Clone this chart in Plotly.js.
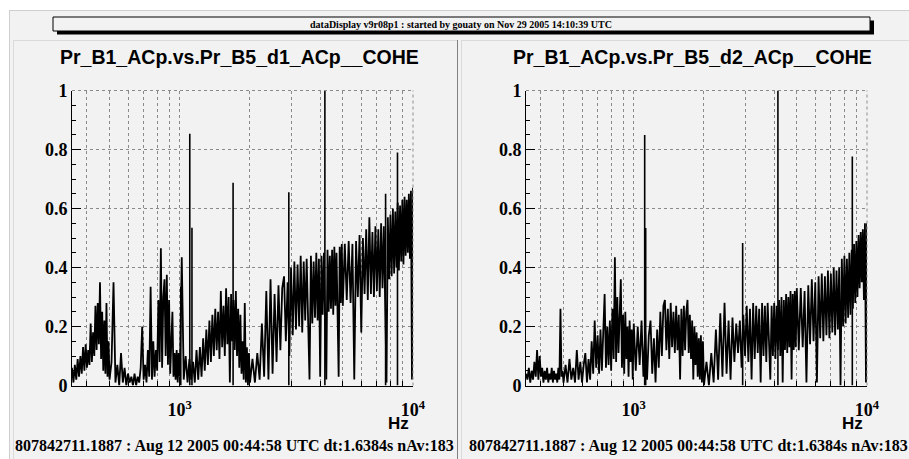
<!DOCTYPE html>
<html><head><meta charset="utf-8">
<script src="https://cdn.plot.ly/plotly-3.0.1.min.js"></script>
<style>html,body{margin:0;padding:0;background:#fff;} #chart{width:909px;height:459px;}</style>
</head><body><div id="chart"></div>
<script>
// ---- data (frequency bins in Hz, coherence values) ----
const freqHz = [
345,350,355,360,365,370,375,380,385,390,395,400,405,410,415,420,425,430,435,440,445,450,455,460,465,470,475,480,485,490,495,500,
510,520,530,540,550,560,570,580,590,600,610,620,630,640,650,660,670,680,690,700,710,720,730,740,750,760,770,780,790,800,
810,820,830,840,850,860,870,880,890,900,910,920,930,940,950,960,970,980,990,1000,
1020,1040,1060,1080,1100,1120,1140,1160,1180,1200,1220,1240,1260,1280,1300,1320,1340,1360,1380,1400,
1420,1440,1460,1480,1500,1520,1540,1560,1580,1600,1620,1640,1660,1680,1700,1720,1740,1760,1780,1800,
1820,1840,1860,1880,1900,1920,1940,1960,1980,2000,
2050,2100,2150,2200,2250,2300,2350,2400,2450,2500,2550,2600,2650,2700,2750,2800,2850,2900,2950,3000,
3050,3100,3150,3200,3250,3300,3350,3400,3450,3500,3550,3600,3650,3700,3750,3800,3850,3900,3950,4000,
4050,4100,4150,4200,4250,4300,4350,4400,4450,4500,4550,4600,4650,4700,4750,4800,4850,4900,4950,5000,
5100,5200,5300,5400,5500,5600,5700,5800,5900,6000,6100,6200,6300,6400,6500,6600,6700,6800,6900,7000,
7100,7200,7300,7400,7500,7600,7700,7800,7900,8000,8100,8200,8300,8400,8500,8600,8700,8800,8900,9000,
9100,9200,9300,9400,9500,9600,9700,9800,9900,10000
];
const cohLeft = [
0.06,0.01,0.07,0.02,0.09,0.03,0.10,0.04,0.13,0.05,0.14,0.06,0.12,0.07,0.21,0.08,0.18,0.10,0.27,0.12,0.28,0.14,0.35,0.09,0.25,0.05,0.22,0.04,0.28,0.03,0.15,0.02,
0.08,0.35,0.01,0.07,0.00,0.11,0.01,0.06,0.00,0.04,
0.01,0.03,0.00,0.04,0.00,0.03,0.01,0.06,0.20,0.02,
0.07,0.01,0.12,0.03,0.335,0.02,0.15,0.03,0.12,0.05,
0.29,0.08,0.465,0.06,0.30,0.36,0.10,0.375,0.07,0.29,
0.04,0.12,0.25,0.03,0.11,0.02,0.12,0.01,0.11,0.03,
0.435,0.02,0.10,0.01,0.09,0.02,0.08,0.01,0.12,0.02,
0.13,0.03,0.16,0.05,0.19,0.07,0.22,0.08,0.24,0.10,
0.26,0.12,0.25,0.09,0.32,0.13,0.27,0.10,0.33,0.14,
0.30,0.01,0.31,0.15,0.29,0.12,0.32,0.10,0.26,0.06,
0.24,0.04,0.15,0.02,0.28,0.01,0.13,0.00,0.11,0.01,
0.09,0.01,0.11,0.02,0.21,0.03,0.32,0.02,0.36,0.04,
0.31,0.08,0.34,0.12,0.33,0.37,0.15,0.35,0.10,0.40,
0.17,0.42,0.19,0.41,0.20,0.44,0.18,0.42,0.22,0.43,
0.20,0.02,0.44,0.21,0.42,0.23,0.45,0.22,0.43,0.03,
0.44,0.24,0.45,0.23,0.02,0.46,0.25,0.44,0.26,0.46,
0.24,0.47,0.27,0.45,0.26,0.03,0.47,0.28,0.48,0.27,
0.48,0.29,0.49,0.28,0.48,0.02,0.49,0.30,0.51,0.18,
0.50,0.31,0.53,0.29,0.57,0.31,0.52,0.30,0.54,0.32,
0.53,0.30,0.55,0.33,0.54,0.31,0.01,0.57,0.36,0.58,
0.37,0.60,0.38,0.59,0.40,0.62,0.39,0.61,0.42,0.63,
0.41,0.64,0.44,0.63,0.45,0.65,0.43,0.66,0.02,0.67
];
const cohRight = [
0.04,0.02,0.06,0.01,0.05,0.02,0.08,0.03,0.12,0.02,0.10,0.03,0.06,0.01,0.05,0.02,0.06,0.01,0.04,0.02,0.06,0.01,0.05,0.02,0.04,0.01,0.06,0.02,0.26,0.03,0.05,0.01,
0.07,0.01,0.09,0.02,0.06,0.01,0.12,0.02,0.08,0.01,
0.07,0.11,0.01,0.09,0.02,0.15,0.04,0.22,0.06,0.17,
0.04,0.19,0.05,0.21,0.31,0.06,0.20,0.07,0.22,0.05,
0.26,0.09,0.435,0.08,0.30,0.11,0.25,0.36,0.06,0.24,
0.04,0.25,0.09,0.20,0.03,0.22,0.08,0.19,0.02,0.21,
0.05,0.20,0.07,0.22,0.03,0.18,0.02,0.17,0.22,0.04,
0.16,0.01,0.19,0.06,0.25,0.10,0.27,0.29,0.12,0.26,
0.09,0.28,0.13,0.25,0.11,0.27,0.12,0.24,0.02,0.26,
0.10,0.27,0.12,0.25,0.29,0.11,0.24,0.09,0.22,0.02,
0.20,0.07,0.18,0.03,0.16,0.02,0.17,0.01,0.15,0.00,
0.08,0.00,0.11,0.01,0.19,0.02,0.245,0.03,0.28,0.04,
0.22,0.02,0.23,0.08,0.21,0.11,0.22,0.06,0.24,0.10,
0.27,0.08,0.26,0.02,0.28,0.09,0.27,0.11,0.26,0.01,
0.28,0.10,0.27,0.08,0.28,0.11,0.02,0.27,0.10,0.28,
0.09,0.27,0.12,0.29,0.10,0.30,0.01,0.29,0.12,0.31,
0.11,0.30,0.13,0.32,0.02,0.31,0.12,0.32,0.13,0.33,
0.12,0.33,0.13,0.32,0.01,0.34,0.14,0.36,0.15,0.35,
0.01,0.37,0.16,0.38,0.15,0.37,0.17,0.39,0.16,0.38,
0.18,0.40,0.17,0.39,0.19,0.40,0.00,0.43,0.20,0.44,
0.21,0.43,0.23,0.45,0.24,0.46,0.26,0.48,0.28,0.49,
0.30,0.51,0.33,0.52,0.35,0.53,0.29,0.55,0.01,0.55
];
const spikeFreqLeft = [1010, 1104, 1128, 1693, 2935, 4190, 7630, 8580];
const spikeCohLeft  = [0.335, 0.853, 0.535, 0.687, 0.655, 1.0, 0.65, 0.79];
const spikeFreqRight = [1114, 1125, 2930, 4150, 8650];
const spikeCohRight  = [0.849, 0.534, 0.483, 1.0, 0.776];

const xTickVals = [1000, 10000];
const xTickText = ['10<sup>3</sup>', '10<sup>4</sup>'];
const xMinorVals = [400,500,600,700,800,900,2000,3000,4000,5000,6000,7000,8000,9000];
const plotTitles = ['Pr_B1_ACp.vs.Pr_B5_d1_ACp__COHE', 'Pr_B1_ACp.vs.Pr_B5_d2_ACp__COHE'];
const headerText = 'dataDisplay v9r08p1 : started by gouaty on Nov 29 2005 14:10:39 UTC';
const footerText = '807842711.1887 : Aug 12 2005 00:44:58 UTC dt:1.6384s nAv:183';
const xUnit = 'Hz';

// ---- layout helpers ----
const W = 909, H = 459;
const px = x => x / W;
const py = y => 1 - y / H;
const BG = '#f2f2f2';
const GRID = '#8a8a8a';

function spikeSegments(fs, hs) {
  const x = [], y = [];
  fs.forEach((f, i) => { x.push(f, f, null); y.push(0, hs[i], null); });
  return {x, y};
}
const sL = spikeSegments(spikeFreqLeft, spikeCohLeft);
const sR = spikeSegments(spikeFreqRight, spikeCohRight);

const lineStyle = {color: '#000', width: 1.8};
const traces = [
  {x: freqHz, y: cohLeft, xaxis: 'x', yaxis: 'y', mode: 'lines', line: lineStyle, hoverinfo: 'skip'},
  {x: sL.x, y: sL.y, xaxis: 'x', yaxis: 'y', mode: 'lines', line: {color: '#000', width: 1.6}, connectgaps: false, hoverinfo: 'skip'},
  {x: freqHz, y: cohRight, xaxis: 'x2', yaxis: 'y2', mode: 'lines', line: lineStyle, hoverinfo: 'skip'},
  {x: sR.x, y: sR.y, xaxis: 'x2', yaxis: 'y2', mode: 'lines', line: {color: '#000', width: 1.6}, connectgaps: false, hoverinfo: 'skip'}
];

const tickFont = {family: 'Liberation Serif', size: 18, weight: 'bold', color: '#000'};
function xAxis(dom, anchor) {
  return {
    type: 'log', domain: dom, anchor: anchor, range: [2.538, 4.0],
    tickmode: 'array', tickvals: xTickVals, ticktext: xTickText,
    ticks: 'inside', ticklen: 9, tickwidth: 1, tickcolor: '#000',
    showline: true, linecolor: '#000', linewidth: 1, mirror: false, zeroline: false,
    showgrid: true, gridcolor: GRID, griddash: 'dot', gridwidth: 1,
    tickfont: tickFont, ticklabelstandoff: 8,
    minor: {tickmode: 'array', tickvals: xMinorVals, ticks: 'inside', ticklen: 5, tickcolor: '#000',
            showgrid: true, gridcolor: GRID, griddash: 'dot', gridwidth: 1},
    fixedrange: true
  };
}
function yAxis(anchor) {
  return {
    domain: [py(385.5), py(90.5)], anchor: anchor, range: [0, 1],
    tickmode: 'linear', tick0: 0, dtick: 0.2,
    ticks: 'inside', ticklen: 9, tickwidth: 1, tickcolor: '#000',
    showline: true, linecolor: '#000', linewidth: 1, mirror: false, zeroline: false,
    showgrid: true, gridcolor: GRID, griddash: 'dot', gridwidth: 1,
    tickfont: tickFont, ticklabelstandoff: 0,
    minor: {dtick: 0.05, tick0: 0, ticks: 'inside', ticklen: 4, tickcolor: '#000', showgrid: false},
    fixedrange: true
  };
}

function hline(x0, x1, y, color, w) {
  return {type: 'line', xref: 'paper', yref: 'paper', x0: px(x0), x1: px(x1), y0: py(y), y1: py(y), line: {color: color, width: w || 1}};
}
function vline(x, y0, y1, color, w) {
  return {type: 'line', xref: 'paper', yref: 'paper', x0: px(x), x1: px(x), y0: py(y0), y1: py(y1), line: {color: color, width: w || 1}};
}
function rect(x0, y0, x1, y1, fill, lineColor) {
  return {type: 'rect', xref: 'paper', yref: 'paper', x0: px(x0), x1: px(x1), y0: py(y1), y1: py(y0),
          fillcolor: fill, line: lineColor ? {color: lineColor, width: 1} : {width: 0}, layer: 'below'};
}
function dottedEdges(xa, ya) {
  return [
    {type: 'line', xref: xa + ' domain', yref: ya + ' domain', x0: 0, x1: 1, y0: 1, y1: 1, line: {color: GRID, width: 1, dash: 'dot'}},
    {type: 'line', xref: xa + ' domain', yref: ya + ' domain', x0: 1, x1: 1, y0: 0, y1: 1, line: {color: GRID, width: 1, dash: 'dot'}}
  ];
}

const shapes = [
  rect(0, 0, 909, 10, '#ffffff'),
  rect(0, 0, 9, 459, '#ffffff'),
  hline(9, 909, 10.5, '#cfcfcf'),
  vline(9.5, 10, 459, '#cfcfcf'),
  hline(13, 457, 40.5, '#dadada'),
  vline(13.5, 40, 459, '#dadada'),
  hline(461, 909, 40.5, '#dadada'),
  vline(461.5, 40, 459, '#dadada'),
  vline(457.5, 40, 459, '#808080'),
  rect(57, 20.5, 874, 34.5, '#000000'),
  rect(53, 17, 870, 31, BG, '#000000'),
  ...dottedEdges('x', 'y'),
  ...dottedEdges('x2', 'y2')
];

function ann(text, x, y, xanchor, font) {
  return {text: text, x: px(x), y: py(y), xref: 'paper', yref: 'paper', xanchor: xanchor, yanchor: 'middle',
          showarrow: false, font: font};
}
const titleFont = {family: 'Liberation Sans', size: 19.5, weight: 'bold', color: '#000'};
const footFont = {family: 'Liberation Serif', size: 16, weight: 'bold', color: '#000'};
const unitFont = {family: 'Liberation Sans', size: 17, weight: 'bold', color: '#000'};
const annotations = [
  ann(headerText, 461.5, 24, 'center', {family: 'Liberation Serif', size: 10, weight: 'bold', color: '#000'}),
  ann(plotTitles[0], 239, 57, 'center', titleFont),
  ann(plotTitles[1], 692, 57, 'center', titleFont),
  ann(xUnit, 411, 423, 'right', unitFont),
  ann(xUnit, 865, 423, 'right', unitFont),
  ann(footerText, 12.7, 445.5, 'left', footFont),
  ann(footerText, 467, 445.5, 'left', footFont)
];

const layout = {
  width: W, height: H, margin: {l: 0, r: 0, t: 0, b: 0, pad: 0},
  paper_bgcolor: BG, plot_bgcolor: BG, showlegend: false,
  xaxis: xAxis([px(72), px(413)], 'y'),
  yaxis: yAxis('x'),
  xaxis2: xAxis([px(526), px(867)], 'y2'),
  yaxis2: yAxis('x2'),
  shapes: shapes, annotations: annotations
};
Plotly.newPlot('chart', traces, layout, {displayModeBar: false, staticPlot: true});
</script>
</body></html>
